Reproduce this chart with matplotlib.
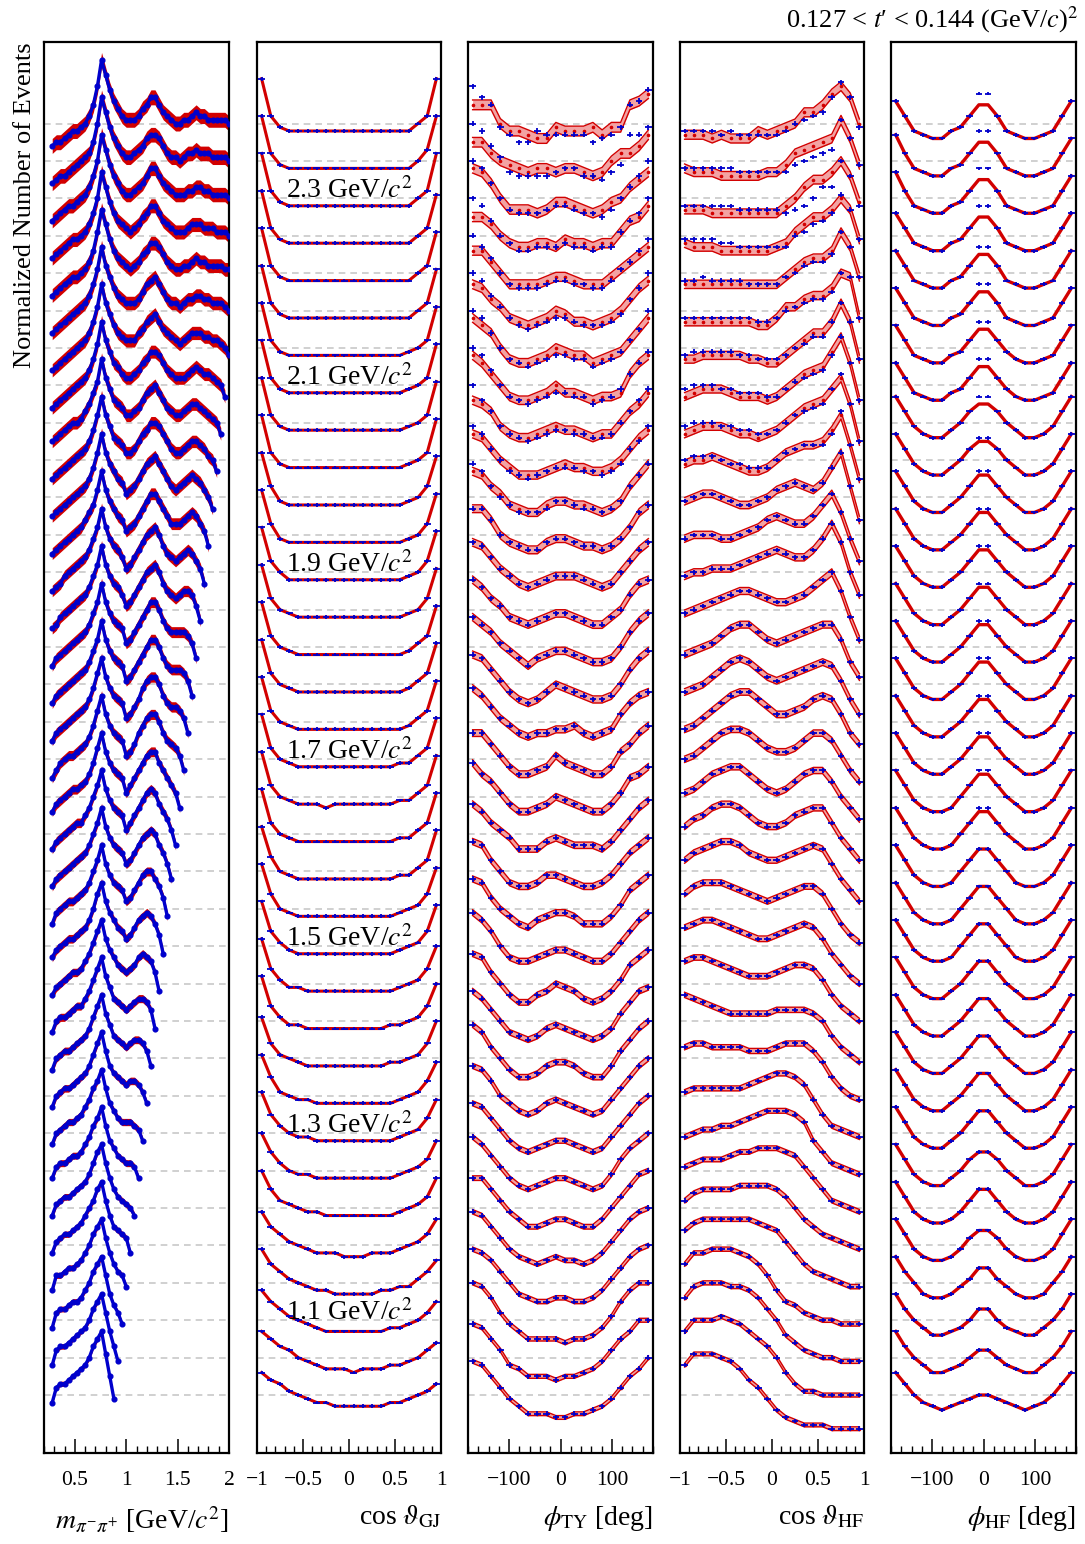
import numpy as np
import matplotlib
matplotlib.use("Agg")
import matplotlib.pyplot as plt
from matplotlib.ticker import MultipleLocator, FixedLocator

plt.rcParams['font.family'] = ['Liberation Serif', 'DejaVu Serif']
plt.rcParams['mathtext.fontset'] = 'stix'

# ---------------- data (values in tenths of the vertical offset step) ----------------
mass_grid = [0.28, 0.32, 0.36, 0.40, 0.44, 0.48, 0.52, 0.56, 0.60, 0.64, 0.68, 0.72,
             0.76, 0.80, 0.84, 0.88, 0.92, 0.96, 1.00, 1.04, 1.08, 1.12, 1.16, 1.20,
             1.24, 1.28, 1.32, 1.36, 1.40, 1.44, 1.48, 1.52, 1.56, 1.60, 1.64, 1.68,
             1.72, 1.76, 1.80, 1.84, 1.88, 1.92, 1.96, 2.00]
cos_bins = [-0.95, -0.85, -0.75, -0.65, -0.55, -0.45, -0.35, -0.25, -0.15, -0.05,
            0.05, 0.15, 0.25, 0.35, 0.45, 0.55, 0.65, 0.75, 0.85, 0.95]
phi_bins = [-171, -153, -135, -117, -99, -81, -63, -45, -27, -9,
            9, 27, 45, 63, 81, 99, 117, 135, 153, 171]

mass_labels = ["1.1", "1.3", "1.5", "1.7", "1.9", "2.1", "2.3"]
mass_label_rows = [2, 7, 12, 17, 22, 27, 32]

mpipi_rows = [
    [-2, 2, 3, 3, 4, 5, 6, 7, 8, 10, 13, 15, 17, 11, 5, -1],
    [-2, 2, 3, 3, 4, 5, 6, 7, 8, 10, 13, 15, 17, 12, 7, 3, -1],
    [-2, 2, 3, 3, 4, 5, 5, 6, 8, 10, 13, 15, 17, 12, 7, 4, 2, -1],
    [-2, 2, 2, 3, 4, 4, 5, 6, 8, 10, 13, 15, 17, 12, 8, 5, 3, 2, -1],
    [-2, 1, 2, 3, 3, 4, 5, 6, 8, 10, 12, 15, 17, 12, 8, 5, 4, 3, 2, -2],
    [-2, 1, 2, 3, 3, 4, 5, 6, 7, 9, 12, 15, 17, 12, 8, 5, 3, 2, 1, 0, -2],
    [-2, 1, 2, 2, 3, 4, 4, 5, 7, 9, 12, 14, 17, 12, 8, 6, 4, 3, 2, 2, 1, -2],
    [-3, 0, 1, 2, 3, 3, 4, 5, 7, 9, 12, 14, 17, 12, 8, 6, 4, 3, 3, 3, 2, 1, -2],
    [-3, 0, 1, 2, 2, 3, 4, 5, 6, 8, 11, 14, 17, 12, 8, 6, 5, 4, 3, 4, 4, 3, 1, -2],
    [-3, 0, 1, 2, 2, 3, 4, 5, 6, 8, 11, 14, 17, 12, 9, 6, 5, 4, 3, 4, 5, 5, 4, 2, -2],
    [-3, 0, 1, 1, 2, 3, 4, 4, 6, 8, 11, 14, 17, 12, 9, 6, 5, 4, 3, 4, 5, 6, 6, 5, 3, -2],
    [-3, -1, 0, 1, 2, 3, 3, 4, 6, 8, 11, 14, 17, 12, 9, 7, 5, 4, 3, 4, 5, 7, 8, 7, 6, 3, -2],
    [-3, -1, 0, 1, 2, 2, 3, 4, 5, 7, 10, 14, 17, 12, 9, 7, 5, 4, 2, 3, 5, 7, 8, 9, 8, 6, 3, -2],
    [-4, -1, 0, 1, 2, 2, 3, 4, 5, 7, 10, 13, 17, 12, 9, 7, 6, 5, 2, 3, 5, 7, 9, 10, 10, 8, 6, 3, -2],
    [-4, -2, -1, 0, 1, 2, 3, 4, 5, 7, 10, 13, 17, 12, 9, 7, 6, 5, 2, 3, 5, 7, 9, 10, 11, 10, 7, 5, 2, -2],
    [-4, -2, -1, 0, 1, 2, 3, 3, 5, 7, 10, 13, 17, 12, 9, 7, 6, 5, 1, 3, 5, 7, 9, 11, 12, 11, 8, 6, 4, 1, -3],
    [-4, -2, -1, 0, 1, 2, 2, 3, 4, 6, 9, 13, 17, 12, 9, 7, 6, 5, 1, 3, 5, 7, 9, 11, 12, 12, 9, 7, 5, 3, 1, -3],
    [-5, -3, -1, 0, 1, 1, 2, 3, 4, 6, 9, 13, 17, 12, 9, 7, 6, 5, 1, 2, 4, 7, 9, 11, 12, 12, 10, 7, 5, 4, 3, 1, -3],
    [-5, -3, -2, -1, 0, 1, 2, 3, 4, 6, 9, 13, 17, 12, 9, 7, 6, 5, 1, 2, 4, 6, 9, 11, 12, 12, 10, 7, 5, 4, 4, 3, 1, -3],
    [-5, -3, -2, -1, 0, 1, 2, 3, 4, 6, 9, 12, 17, 12, 9, 7, 6, 5, 1, 2, 4, 6, 8, 10, 12, 12, 10, 7, 5, 4, 4, 4, 3, 1, -3],
    [-5, -3, -2, -1, 0, 1, 2, 3, 4, 6, 9, 12, 17, 12, 9, 7, 6, 5, 1, 2, 4, 6, 8, 10, 12, 12, 10, 7, 5, 4, 4, 4, 4, 3, 1, -3],
    [-5, -4, -2, -1, 0, 1, 2, 3, 4, 6, 9, 12, 17, 12, 9, 7, 6, 4, 1, 2, 4, 6, 8, 10, 11, 12, 10, 7, 5, 4, 3, 4, 5, 5, 4, 1, -3],
    [-5, -4, -3, -1, 0, 1, 2, 3, 4, 6, 9, 12, 17, 12, 9, 7, 6, 4, 1, 2, 4, 6, 8, 10, 11, 12, 10, 7, 5, 4, 3, 4, 5, 6, 5, 3, 1, -3],
    [-5, -4, -3, -2, -1, 0, 1, 2, 4, 6, 8, 12, 17, 12, 9, 7, 5, 4, 1, 2, 3, 5, 7, 9, 11, 11, 9, 7, 5, 3, 3, 3, 4, 5, 6, 5, 3, 1, -3],
    [-5, -4, -3, -2, -1, 0, 1, 2, 3, 5, 8, 12, 17, 12, 9, 7, 5, 4, 1, 2, 3, 5, 7, 9, 10, 11, 9, 7, 5, 3, 2, 3, 4, 5, 6, 5, 4, 2, 0, -3],
    [-5, -4, -3, -2, -1, 0, 1, 2, 3, 5, 8, 12, 17, 12, 9, 6, 5, 4, 2, 2, 3, 5, 7, 8, 10, 10, 9, 7, 5, 3, 2, 2, 3, 4, 5, 5, 4, 3, 1, 0, -3],
    [-5, -4, -3, -2, -1, 0, 0, 1, 3, 5, 8, 11, 17, 12, 9, 6, 5, 4, 2, 2, 3, 4, 6, 8, 9, 10, 8, 6, 4, 3, 2, 2, 3, 4, 5, 5, 4, 3, 2, 1, 0, -3],
    [-6, -5, -4, -3, -2, -1, 0, 1, 2, 4, 7, 11, 17, 12, 9, 6, 5, 3, 2, 2, 3, 4, 6, 7, 9, 9, 8, 6, 4, 3, 2, 2, 2, 3, 4, 5, 4, 3, 3, 2, 1, 0, -3],
    [-6, -5, -4, -3, -2, -1, 0, 1, 2, 4, 7, 11, 17, 12, 9, 6, 4, 3, 2, 2, 2, 4, 5, 7, 8, 9, 7, 5, 4, 3, 2, 1, 2, 3, 4, 4, 4, 3, 3, 2, 2, 1, 0, -2],
    [-6, -5, -4, -3, -2, -1, 0, 1, 2, 4, 7, 11, 17, 12, 9, 6, 4, 3, 2, 2, 2, 3, 5, 7, 8, 9, 7, 5, 3, 2, 2, 1, 2, 3, 3, 4, 4, 3, 3, 2, 2, 2, 1, 0],
    [-6, -5, -4, -3, -2, -1, -1, 0, 1, 3, 6, 11, 17, 13, 9, 6, 4, 3, 2, 1, 2, 3, 5, 6, 8, 8, 7, 5, 3, 2, 1, 1, 2, 2, 3, 4, 3, 3, 2, 2, 2, 2, 1, 1],
    [-6, -5, -4, -3, -2, -1, -1, 0, 1, 3, 6, 10, 17, 13, 9, 6, 4, 3, 2, 1, 2, 3, 5, 6, 8, 8, 6, 4, 3, 2, 1, 1, 1, 2, 3, 3, 3, 2, 2, 2, 1, 1, 1, 0],
    [-6, -5, -4, -3, -2, -2, -1, 0, 1, 3, 6, 10, 17, 13, 9, 6, 4, 2, 1, 1, 2, 3, 4, 6, 8, 8, 6, 4, 3, 2, 1, 1, 1, 2, 2, 3, 3, 2, 2, 1, 1, 1, 1, 0],
    [-6, -5, -4, -4, -3, -2, -1, 0, 1, 2, 5, 10, 17, 13, 9, 6, 4, 2, 1, 1, 2, 3, 4, 6, 7, 7, 6, 4, 2, 1, 1, 0, 1, 2, 2, 3, 2, 2, 2, 1, 1, 1, 1, 0],
    [-6, -5, -5, -4, -3, -2, -2, -1, 0, 2, 5, 10, 17, 13, 9, 6, 4, 2, 1, 1, 1, 2, 4, 5, 7, 7, 5, 3, 2, 1, 0, 0, 1, 1, 2, 3, 2, 2, 1, 1, 1, 1, 1, 0],
]

cosgj_rows = [
    [6, 4, 3, 1, 0, -1, -2, -2, -3, -3, -3, -3, -3, -3, -2, -2, -1, 0, 1, 3],
    [7, 5, 3, 2, 0, -1, -2, -3, -3, -3, -4, -3, -3, -3, -2, -2, -1, 0, 2, 4],
    [8, 5, 3, 1, 0, -1, -2, -3, -3, -3, -3, -3, -3, -3, -2, -2, -1, 0, 2, 5],
    [9, 5, 3, 1, 0, -1, -2, -2, -3, -3, -3, -3, -3, -2, -2, -1, -1, 1, 3, 6],
    [9, 5, 3, 1, 0, -1, -2, -2, -2, -3, -3, -3, -2, -2, -2, -1, 0, 1, 3, 7],
    [10, 5, 2, 1, 0, -1, -1, -2, -2, -2, -2, -2, -2, -2, -2, -1, 0, 1, 3, 8],
    [10, 5, 2, 0, -1, -1, -2, -2, -2, -2, -2, -2, -2, -2, -2, -1, 0, 1, 3, 8],
    [11, 5, 2, 0, -1, -1, -2, -2, -2, -2, -2, -2, -2, -2, -2, -1, 0, 1, 4, 9],
    [11, 5, 1, 0, -1, -1, -2, -2, -2, -2, -2, -2, -2, -2, -2, -1, 0, 1, 4, 9],
    [11, 4, 1, 0, -1, -2, -2, -2, -2, -2, -2, -2, -2, -2, -1, -1, 0, 1, 4, 10],
    [12, 4, 1, -1, -1, -2, -2, -2, -2, -2, -2, -2, -2, -2, -1, -1, 0, 1, 4, 10],
    [12, 4, 1, -1, -1, -2, -2, -2, -2, -2, -2, -2, -2, -2, -2, -1, 0, 1, 4, 10],
    [12, 4, 1, -1, -2, -2, -2, -2, -2, -2, -2, -2, -2, -2, -2, -1, 0, 1, 4, 11],
    [12, 4, 0, -1, -2, -2, -2, -2, -2, -2, -2, -2, -2, -2, -2, -1, 0, 1, 4, 11],
    [12, 4, 0, -1, -2, -2, -2, -2, -2, -2, -2, -2, -2, -2, -2, -1, -1, 1, 3, 11],
    [12, 3, 0, -1, -2, -2, -2, -2, -2, -2, -2, -2, -2, -2, -2, -1, -1, 1, 3, 11],
    [12, 3, 0, -1, -2, -2, -2, -3, -2, -2, -2, -2, -2, -2, -2, -1, -1, 1, 3, 11],
    [12, 3, 0, -1, -2, -2, -2, -2, -2, -2, -2, -2, -2, -2, -2, -1, -1, 1, 3, 11],
    [12, 3, 0, -1, -2, -2, -2, -2, -2, -2, -2, -2, -2, -2, -2, -2, -1, 1, 3, 11],
    [12, 3, 0, -1, -2, -2, -2, -2, -2, -2, -2, -2, -2, -2, -2, -2, -1, 1, 3, 11],
    [12, 3, 0, -1, -2, -2, -2, -2, -2, -2, -2, -2, -2, -2, -2, -2, -1, 1, 3, 11],
    [12, 3, 0, -1, -2, -2, -2, -2, -2, -2, -2, -2, -2, -2, -2, -2, -1, 0, 3, 11],
    [12, 3, 0, -2, -2, -2, -2, -2, -2, -2, -2, -2, -2, -2, -2, -2, -1, 0, 3, 11],
    [12, 3, -1, -2, -2, -2, -2, -2, -2, -2, -2, -2, -2, -2, -2, -2, -1, 0, 3, 11],
    [12, 3, -1, -2, -2, -2, -2, -2, -2, -2, -2, -2, -2, -2, -2, -2, -1, 0, 3, 11],
    [12, 2, -1, -2, -2, -2, -2, -2, -2, -2, -2, -2, -2, -2, -2, -2, -1, 0, 2, 11],
    [12, 2, -1, -2, -2, -2, -2, -2, -2, -2, -2, -2, -2, -2, -2, -2, -1, 0, 2, 11],
    [12, 2, -1, -2, -2, -2, -2, -2, -2, -2, -2, -2, -2, -2, -2, -2, -1, 0, 2, 11],
    [12, 2, -1, -2, -2, -2, -2, -2, -2, -2, -2, -2, -2, -2, -2, -2, -1, 0, 2, 11],
    [12, 2, -1, -2, -2, -2, -2, -2, -2, -2, -2, -2, -2, -2, -2, -2, -2, 0, 2, 11],
    [12, 2, -1, -2, -2, -2, -2, -2, -2, -2, -2, -2, -2, -2, -2, -2, -2, 0, 2, 11],
    [12, 2, -1, -2, -2, -2, -2, -2, -2, -2, -2, -2, -2, -2, -2, -2, -2, 0, 2, 11],
    [12, 2, -1, -2, -2, -2, -2, -2, -2, -2, -2, -2, -2, -2, -2, -2, -2, 0, 2, 12],
    [12, 2, -1, -2, -2, -2, -2, -2, -2, -2, -2, -2, -2, -2, -2, -2, -2, 0, 3, 12],
    [12, 2, -1, -2, -2, -2, -2, -2, -2, -2, -2, -2, -2, -2, -2, -2, -2, 0, 2, 12],
]

phity_rows = [
    [9, 8, 5, 2, -1, -3, -5, -5, -5, -6, -6, -5, -5, -4, -3, -1, 2, 5, 7, 10],
    [9, 8, 5, 2, -2, -3, -5, -5, -5, -6, -5, -5, -4, -3, -1, 2, 5, 7, 10, 10],
    [10, 9, 6, 2, -1, -3, -5, -5, -5, -5, -6, -5, -5, -4, -2, 1, 5, 8, 10, 10],
    [9, 8, 6, 3, 0, -3, -4, -5, -5, -4, -4, -5, -5, -4, -2, 1, 4, 7, 9, 10],
    [9, 8, 5, 2, -1, -3, -4, -5, -4, -3, -4, -4, -5, -4, -2, 1, 4, 7, 9, 10],
    [8, 8, 5, 2, -1, -3, -5, -5, -4, -3, -3, -4, -5, -5, -3, 0, 3, 6, 9, 10],
    [9, 7, 4, 1, -2, -4, -5, -4, -3, -2, -2, -3, -4, -5, -4, -1, 3, 6, 8, 10],
    [8, 7, 4, 1, -2, -4, -5, -4, -3, -2, -2, -3, -4, -5, -4, -1, 2, 5, 8, 10],
    [8, 7, 4, 0, -2, -4, -5, -4, -2, -1, -2, -3, -4, -5, -4, -1, 2, 5, 8, 10],
    [9, 7, 3, 0, -3, -5, -5, -4, -2, -1, -1, -2, -4, -5, -5, -2, 2, 5, 8, 10],
    [8, 6, 3, 0, -3, -4, -5, -4, -2, -1, -2, -3, -4, -5, -4, -2, 2, 5, 8, 9],
    [8, 7, 3, 0, -3, -5, -5, -3, -2, 0, -1, -2, -4, -5, -4, -2, 1, 5, 7, 9],
    [9, 7, 4, 0, -3, -4, -4, -3, -2, -1, -1, -2, -3, -4, -4, -2, 1, 4, 7, 9],
    [8, 7, 3, 0, -2, -4, -5, -3, -2, -1, -1, -2, -4, -4, -4, -2, 1, 5, 7, 9],
    [8, 7, 3, 0, -3, -4, -4, -3, -1, -1, -2, -3, -4, -4, -3, -1, 2, 5, 7, 9],
    [8, 6, 3, 1, -1, -4, -4, -4, -2, -1, -2, -3, -3, -3, -4, -2, 1, 4, 7, 9],
    [9, 6, 4, 1, -2, -4, -4, -3, -2, 0, -1, -2, -3, -4, -4, -2, 1, 5, 6, 8],
    [7, 7, 4, 1, -2, -4, -4, -3, -2, 1, -1, -2, -3, -4, -4, -2, 2, 4, 7, 9],
    [9, 7, 4, 1, -1, -3, -4, -3, -3, -2, -2, -1, -3, -4, -3, -2, 2, 5, 7, 8],
    [8, 7, 4, 1, -2, -4, -5, -4, -2, 0, -1, -2, -3, -4, -4, -3, 0, 4, 7, 9],
    [8, 6, 4, 1, -1, -3, -5, -3, -2, -1, -1, -2, -3, -4, -4, -3, 0, 4, 7, 9],
    [8, 6, 3, 1, -2, -3, -4, -3, -2, -1, -1, -2, -3, -4, -4, -2, 0, 4, 7, 8],
    [8, 7, 4, 1, -1, -3, -4, -3, -2, -1, -1, -1, -2, -3, -4, -3, 0, 3, 6, 8],
    [7, 7, 4, 0, -2, -3, -4, -4, -2, -1, -1, -2, -3, -3, -4, -3, -1, 2, 6, 8],
    [7, 6, 3, 1, -2, -3, -4, -4, -2, -1, -1, -2, -2, -3, -4, -3, -1, 3, 6, 9],
    [7, 6, 3, 0, -2, -4, -4, -4, -3, -2, -1, -2, -2, -3, -3, -2, 0, 3, 6, 8],
    [6, 5, 3, -1, -3, -4, -4, -3, -2, -1, -2, -2, -3, -4, -3, -3, 0, 3, 5, 8],
    [8, 6, 3, 0, -3, -4, -4, -3, -2, 0, -2, -2, -3, -4, -3, -3, -2, 3, 6, 8],
    [8, 6, 4, 0, -3, -4, -4, -3, -2, 0, -1, -2, -2, -4, -3, -2, -1, 2, 5, 8],
    [7, 6, 3, 1, -2, -3, -4, -3, -2, 0, -1, -3, -3, -4, -3, -2, 0, 3, 6, 8],
    [6, 6, 3, 0, -3, -3, -3, -3, -2, -1, -1, -2, -3, -3, -3, -1, 1, 3, 5, 7],
    [5, 5, 3, 0, -2, -3, -3, -2, -2, -3, -1, -2, -2, -3, -2, -2, 1, 4, 5, 8],
    [8, 7, 4, 0, -3, -3, -3, -4, -3, -1, -1, -2, -3, -4, -3, -1, 0, 3, 5, 7],
    [5, 5, 2, 0, -1, -2, -3, -2, -2, -3, -2, -2, -3, -4, -3, 0, 2, 2, 4, 7],
    [5, 5, 5, 0, -2, -2, -3, -4, -4, -1, -2, -2, -2, -1, -3, -1, -1, 5, 6, 8],
]
# measured points where they visibly differ from the model (None = on the model)
phity_data = [None] * 24 + [
    [9, 7, 3, 0, -2, -4, -4, -4, -3, -1, -1, -2, -3, -3, -4, -3, -1, 3, 6, 9],
    [9, 7, 3, 0, -3, -4, -5, -4, -3, -2, -2, -2, -3, -3, -4, -3, -1, 3, 5, 9],
    [10, 6, 3, -1, -3, -4, -5, -4, -3, -2, -2, -3, -3, -4, -4, -3, 0, 3, 6, 9],
    [10, 8, 4, 0, -3, -4, -5, -4, -3, -2, -2, -3, -3, -5, -4, -3, -1, 3, 6, 9],
    [10, 8, 4, 0, -3, -4, -5, -4, -3, -2, -2, -3, -3, -5, -4, -3, -1, 2, 5, 10],
    [10, 8, 4, 1, -2, -4, -5, -4, -3, -2, -2, -3, -4, -4, -4, -3, -1, 3, 6, 10],
    [10, 7, 4, 0, -3, -4, -4, -4, -3, -2, -2, -3, -3, -4, -4, -2, 1, 3, 6, 9],
    [10, 8, 4, 0, -2, -4, -4, -3, -3, -3, -2, -3, -3, -4, -3, -3, 1, 4, 6, 10],
    [10, 8, 4, 0, -3, -4, -4, -4, -3, -2, -2, -3, -4, -4, -5, -3, 0, 3, 6, 10],
    [10, 8, 4, 1, -3, -4, -4, -4, -4, -3, -2, -2, -4, -4, -5, -3, -1, 7, 7, 9],
    [10, 7, 5, -1, -3, -5, -5, -2, -3, -3, -3, -3, -3, -5, -4, -3, -1, 5, 6, 9],
]

coshf_rows = [
    [8, 11, 11, 11, 10, 9, 7, 4, 2, -1, -4, -6, -7, -8, -8, -8, -9, -9, -9, -9],
    [7, 10, 10, 10, 11, 10, 9, 7, 5, 3, 0, -4, -7, -9, -9, -10, -10, -10, -10, -10],
    [6, 9, 10, 10, 10, 9, 9, 8, 6, 3, 0, -4, -6, -8, -9, -10, -10, -11, -11, -11],
    [5, 8, 8, 9, 9, 9, 8, 7, 5, 2, -2, -5, -6, -8, -9, -10, -10, -11, -11, -11],
    [4, 6, 7, 7, 7, 7, 7, 7, 6, 5, 4, 1, -2, -5, -7, -8, -9, -10, -11, -11],
    [2, 4, 5, 5, 5, 5, 6, 6, 6, 6, 5, 3, 0, -3, -5, -7, -8, -9, -10, -11],
    [1, 2, 3, 3, 3, 4, 5, 5, 6, 6, 6, 5, 4, 1, -2, -5, -8, -9, -10, -11],
    [-1, 0, 1, 1, 2, 2, 3, 4, 5, 6, 6, 6, 5, 3, -2, -5, -8, -9, -10, -11],
    [1, 2, 2, 2, 2, 2, 2, 3, 4, 5, 6, 6, 5, 3, -1, -5, -8, -9, -10, -11],
    [3, 4, 4, 3, 3, 3, 3, 2, 2, 2, 3, 4, 4, 4, 2, -1, -5, -8, -10, -11],
    [7, 6, 5, 4, 3, 2, 2, 2, 2, 2, 3, 3, 3, 3, 2, 0, -4, -7, -9, -11],
    [6, 7, 7, 6, 5, 4, 3, 2, 2, 2, 3, 4, 5, 5, 4, 1, -3, -6, -8, -10],
    [5, 6, 7, 7, 6, 5, 4, 3, 2, 2, 3, 4, 5, 6, 5, 2, -2, -5, -8, -10],
    [4, 6, 7, 7, 7, 6, 5, 4, 3, 2, 3, 4, 5, 6, 6, 4, 0, -4, -7, -9],
    [3, 5, 6, 7, 8, 8, 7, 5, 4, 3, 3, 4, 5, 6, 7, 6, 2, -2, -5, -8],
    [2, 4, 5, 7, 8, 8, 7, 5, 3, 2, 2, 3, 5, 6, 7, 7, 3, -1, -4, -7],
    [1, 2, 4, 6, 7, 8, 8, 6, 4, 2, 1, 2, 4, 6, 7, 7, 4, 0, -3, -6],
    [0, 1, 3, 5, 7, 8, 8, 7, 5, 3, 2, 2, 3, 5, 7, 7, 5, 1, -3, -6],
    [-2, -1, 1, 3, 5, 7, 8, 8, 6, 4, 2, 2, 3, 4, 6, 7, 6, 2, -3, -6],
    [-2, -1, 0, 2, 4, 6, 7, 6, 4, 2, 1, 2, 3, 4, 5, 6, 5, 1, -4, -8],
    [-2, -1, 0, 1, 3, 5, 6, 6, 4, 2, 1, 2, 3, 4, 5, 6, 6, 2, -4, -8],
    [-1, 0, 1, 2, 3, 4, 5, 5, 4, 3, 2, 2, 3, 4, 6, 8, 10, 5, -2, -8],
    [-1, 0, 0, 1, 1, 1, 2, 3, 4, 5, 6, 5, 4, 4, 6, 9, 13, 8, 0, -6],
    [-1, 0, 0, 0, -1, -1, 0, 1, 2, 4, 5, 4, 3, 3, 5, 8, 11, 6, -1, -7],
    [-1, 0, 1, 1, 0, -1, -2, -2, -1, 0, 2, 3, 4, 3, 2, 4, 8, 12, 3, -6],
    [-1, 0, 0, 1, 0, -1, -2, -3, -3, -2, 0, 2, 3, 4, 4, 5, 8, 12, 4, -5],
    [-3, -2, -1, -1, -1, -2, -3, -3, -4, -3, -2, 0, 2, 4, 5, 6, 9, 12, 5, -5],
    [-3, -2, -1, -1, -1, -2, -3, -3, -3, -4, -3, -1, 1, 3, 4, 5, 9, 13, 6, -4],
    [-3, -3, -2, -2, -2, -2, -2, -3, -3, -4, -4, -2, 0, 2, 4, 4, 7, 12, 7, -3],
    [-3, -3, -3, -3, -3, -3, -3, -3, -4, -4, -2, 1, 1, 3, 4, 4, 6, 10, 9, -2],
    [-3, -3, -3, -3, -3, -3, -3, -3, -3, -3, -3, -1, 1, 3, 4, 4, 6, 11, 7, -1],
    [-2, -3, -3, -3, -4, -4, -4, -4, -4, -4, -3, -2, 1, 3, 5, 5, 7, 10, 7, -1],
    [-3, -3, -3, -4, -4, -4, -4, -4, -4, -4, -4, -2, 0, 3, 5, 5, 7, 10, 6, -1],
    [-2, -3, -3, -3, -4, -4, -4, -4, -4, -3, -3, -1, 2, 3, 4, 5, 6, 11, 6, -1],
    [-3, -3, -3, -4, -3, -4, -4, -4, -2, -3, -2, -1, 0, 3, 3, 5, 8, 10, 7, 0],
]
coshf_data = [None] * 25 + [
    [0, 1, 1, 1, 0, -1, -1, -2, -2, -2, 0, 2, 3, 4, 4, 4, 7, 13, 4, -5],
    [-1, 0, 0, 0, -1, -1, -2, -2, -3, -3, -2, 0, 2, 3, 4, 5, 9, 13, 5, -5],
    [-1, 0, 0, 0, -1, -1, -2, -2, -2, -3, -3, -1, 1, 2, 3, 4, 8, 13, 6, -4],
    [-2, -1, -1, -1, -1, -1, -2, -2, -3, -3, -3, -2, 0, 1, 3, 3, 7, 12, 7, -3],
    [-2, -2, -2, -2, -2, -2, -2, -2, -3, -3, -2, 0, 1, 2, 3, 3, 5, 10, 9, -2],
    [-2, -2, -1, -2, -2, -2, -2, -3, -3, -3, -3, -1, 0, 2, 3, 3, 5, 11, 7, -1],
    [-1, -1, -1, -1, -2, -2, -3, -3, -3, -3, -3, -3, 0, 1, 3, 4, 6, 11, 7, -1],
    [-2, -2, -2, -2, -2, -2, -3, -3, -3, -3, -3, -4, -3, -2, 0, 3, 3, 10, 6, -2],
    [-2, -2, -2, -2, -2, -2, -3, -3, -3, -3, -3, -3, -1, 0, 1, 2, 3, 11, 6, -1],
    [-2, -2, -2, -2, -3, -2, -3, -3, -3, -3, -3, -2, 0, 1, 2, 3, 7, 11, 7, -1],
]

phihf_rows = [
    [6, 3, 0, -2, -3, -4, -3, -2, -1, 0, 0, -1, -2, -3, -4, -3, -2, 0, 3, 6],
    [7, 3, 0, -2, -4, -4, -3, -2, 0, 2, 2, 0, -2, -3, -4, -4, -2, 0, 3, 7],
    [7, 3, 0, -2, -4, -4, -3, -2, 0, 3, 3, 0, -2, -3, -4, -4, -2, 0, 3, 7],
    [7, 3, 0, -3, -4, -4, -3, -1, 1, 4, 4, 1, -1, -3, -4, -4, -3, 0, 3, 7],
    [7, 3, -1, -3, -4, -4, -3, -1, 2, 4, 4, 2, -1, -3, -4, -4, -3, -1, 3, 7],
    [7, 3, -1, -3, -4, -4, -3, -1, 2, 5, 5, 2, -1, -3, -4, -4, -3, -1, 3, 7],
    [7, 3, -1, -3, -4, -4, -2, 0, 3, 5, 5, 3, 0, -2, -4, -4, -3, -1, 3, 7],
    [7, 3, -1, -3, -4, -4, -2, 0, 3, 6, 6, 3, 0, -2, -4, -4, -3, -1, 3, 7],
    [7, 3, -1, -3, -4, -4, -2, 0, 3, 6, 6, 3, 0, -2, -4, -4, -3, -1, 3, 7],
    [7, 3, -1, -3, -4, -4, -2, 0, 3, 6, 6, 3, 0, -2, -4, -4, -3, -1, 3, 7],
    [7, 3, -1, -3, -4, -4, -2, 0, 3, 6, 6, 3, 0, -2, -4, -4, -3, -1, 3, 7],
    [7, 3, -1, -3, -4, -4, -2, 0, 3, 6, 6, 3, 0, -2, -4, -4, -3, -1, 3, 7],
    [7, 3, -1, -3, -4, -4, -3, 0, 3, 6, 6, 3, 0, -3, -4, -4, -3, -1, 3, 7],
    [7, 3, -1, -3, -4, -4, -3, 0, 3, 6, 6, 3, 0, -3, -4, -4, -3, -1, 3, 7],
    [7, 3, -1, -3, -4, -4, -3, 0, 3, 6, 6, 3, 0, -3, -4, -4, -3, -1, 3, 7],
    [7, 3, -1, -3, -4, -4, -3, 0, 3, 6, 6, 3, 0, -2, -4, -4, -3, -1, 3, 7],
    [7, 3, -1, -3, -4, -4, -3, 0, 3, 6, 6, 3, 0, -2, -4, -4, -3, -1, 3, 7],
    [7, 3, -1, -3, -4, -4, -2, 0, 3, 6, 6, 3, 0, -2, -4, -4, -3, -1, 3, 7],
    [7, 3, -1, -3, -4, -4, -2, 0, 3, 6, 6, 3, 0, -2, -4, -4, -3, -1, 3, 7],
    [7, 3, -1, -3, -4, -4, -2, 0, 3, 6, 6, 3, 0, -2, -4, -4, -3, -1, 3, 7],
    [7, 3, -1, -3, -4, -4, -2, 0, 3, 6, 6, 3, 0, -2, -4, -4, -3, -1, 3, 7],
    [7, 3, -1, -3, -4, -4, -2, 0, 3, 6, 6, 3, 0, -2, -4, -4, -3, -1, 3, 7],
    [7, 3, -1, -3, -4, -4, -2, 0, 3, 6, 6, 3, 0, -2, -4, -4, -3, -1, 3, 7],
    [7, 3, -1, -3, -4, -4, -2, 0, 3, 6, 6, 3, 0, -2, -4, -4, -3, -1, 3, 7],
    [7, 3, -1, -3, -4, -4, -2, 0, 3, 6, 6, 3, 0, -2, -4, -4, -3, -1, 3, 7],
    [7, 3, -1, -3, -4, -4, -2, 0, 3, 5, 5, 3, 0, -2, -4, -4, -3, -1, 3, 7],
    [7, 3, -1, -3, -4, -4, -2, 0, 3, 5, 5, 3, 0, -2, -4, -4, -3, -1, 3, 7],
    [6, 2, -2, -3, -4, -4, -2, -1, 2, 5, 5, 2, -1, -3, -4, -4, -3, -2, 2, 6],
    [6, 2, -2, -3, -4, -4, -2, -1, 2, 5, 5, 2, -1, -3, -4, -4, -3, -2, 2, 6],
    [6, 2, -2, -3, -4, -4, -2, -1, 2, 5, 5, 2, -2, -3, -4, -4, -3, -2, 2, 6],
    [6, 2, -2, -3, -4, -4, -2, -1, 2, 5, 5, 2, -2, -3, -4, -4, -3, -2, 2, 6],
    [6, 2, -2, -3, -4, -4, -2, -1, 2, 5, 5, 2, -2, -3, -4, -4, -3, -2, 2, 6],
    [7, 2, -2, -3, -4, -4, -2, -1, 2, 5, 5, 2, -2, -3, -4, -4, -3, -2, 2, 6],
    [7, 2, -2, -3, -4, -4, -2, -1, 2, 5, 5, 2, -2, -3, -4, -4, -3, -2, 2, 6],
    [6, 2, -2, -3, -4, -4, -2, -1, 2, 5, 5, 2, -2, -3, -4, -4, -3, -2, 2, 6],
]
# measured value of the two central phi_HF bins (tenths)
phihf_center_data = [0, 2, 3, 4, 4, 5, 5, 6, 6, 6, 6, 6, 6, 6, 6, 7, 7, 7, 7, 7,
                     7, 7, 7, 7, 7, 6, 7, 7, 7, 7, 7, 8, 8, 8, 8]

# ---------------- drawing ----------------
RED = '#d20000'
PINK = '#f3a3a3'
BLUE = '#0000cc'
GRID = '#c8c8c8'

W, H = 1085, 1544
fig = plt.figure(figsize=(W / 100, H / 100), dpi=100)
bounds = [(44, 229), (257, 441), (468, 653), (680, 864), (891, 1076)]
top_px, bot_px = 42, 1453
axs = []
for l, r in bounds:
    ax = fig.add_axes([l / W, 1 - bot_px / H, (r - l) / W, (bot_px - top_px) / H])
    ax.set_ylim(-1.55, 36.18)
    ax.set_yticks([])
    for s in ax.spines.values():
        s.set_linewidth(1.6)
    for i in range(35):
        ax.axhline(i, color=GRID, lw=1.2, ls=(0, (4, 3)), zorder=0)
    ax.tick_params(axis='x', which='major', direction='in', length=10, width=1.1,
                   labelsize=15.5, pad=13, top=False)
    ax.tick_params(axis='x', which='minor', direction='in', length=5, width=1.0, top=False)
    axs.append(ax)

n = len(mpipi_rows)

# panel 1: m(pi pi)
ax = axs[0]
ax.set_xlim(0.2, 2.0)
for i, row in enumerate(mpipi_rows):
    x = np.array(mass_grid[:len(row)])
    y = i + np.array(row) / 10.0
    w = 0.07 + 0.13 * i / (n - 1)
    ax.fill_between(x, y - w, y + w, color=RED, lw=0, zorder=2)
    ax.plot(x, y, color=BLUE, lw=2.4, marker='o', ms=3.4, zorder=3)
ax.xaxis.set_major_locator(FixedLocator([0.5, 1.0, 1.5, 2.0]))
ax.set_xticklabels(['0.5', '1', '1.5', '2'])
ax.xaxis.set_minor_locator(MultipleLocator(0.1))


def band(ax, x, y, w):
    ax.fill_between(x, y - w, y + w, color=PINK, lw=0, zorder=2)
    ax.plot(x, y - w, color=RED, lw=1.0, zorder=3)
    ax.plot(x, y + w, color=RED, lw=1.0, zorder=3)
    ax.plot(x, y, ls='none', marker='o', ms=1.6, color=RED, zorder=3)


def points(ax, x, y, hw, ye):
    ax.errorbar(x, y, xerr=hw, yerr=ye, fmt='none', ecolor=BLUE,
                elinewidth=1.3, capsize=0, zorder=4)


# panel 2: cos theta GJ
ax = axs[1]
ax.set_xlim(-1, 1)
xc = np.array(cos_bins)
for i, row in enumerate(cosgj_rows):
    y = i + np.array(row) / 10.0
    ax.plot(xc, y, color=RED, lw=2.2, zorder=3)
    points(ax, xc, y, 0.036, 0.05)
for lab, r in zip(mass_labels, mass_label_rows):
    ax.text(0.0, r + 0.2, lab + r' GeV/$c^2$', ha='center', va='center',
            fontsize=20, zorder=6)
ax.xaxis.set_major_locator(FixedLocator([-1, -0.5, 0, 0.5, 1]))
ax.set_xticklabels(['\u22121', '\u22120.5', '0', '0.5', '1'])
ax.xaxis.set_minor_locator(MultipleLocator(0.1))

# panel 3: phi TY
ax = axs[2]
ax.set_xlim(-180, 180)
xp = np.array(phi_bins)
for i, row in enumerate(phity_rows):
    y = i + np.array(row) / 10.0
    w = 0.05 + 0.08 * i / (n - 1)
    band(ax, xp, y, w)
    d = phity_data[i]
    yd = y if d is None else i + np.array(d) / 10.0
    points(ax, xp, yd, 6.5, 0.07)
ax.xaxis.set_major_locator(FixedLocator([-100, 0, 100]))
ax.set_xticklabels(['\u2212100', '0', '100'])
ax.xaxis.set_minor_locator(MultipleLocator(20))

# panel 4: cos theta HF
ax = axs[3]
ax.set_xlim(-1, 1)
for i, row in enumerate(coshf_rows):
    y = i + np.array(row) / 10.0
    w = 0.05 + 0.07 * i / (n - 1)
    band(ax, xc, y, w)
    d = coshf_data[i]
    yd = y if d is None else i + np.array(d) / 10.0
    points(ax, xc, yd, 0.036, 0.06)
ax.xaxis.set_major_locator(FixedLocator([-1, -0.5, 0, 0.5, 1]))
ax.set_xticklabels(['\u22121', '\u22120.5', '0', '0.5', '1'])
ax.xaxis.set_minor_locator(MultipleLocator(0.1))

# panel 5: phi HF
ax = axs[4]
ax.set_xlim(-180, 180)
for i, row in enumerate(phihf_rows):
    y = i + np.array(row) / 10.0
    ax.plot(xp, y, color=RED, lw=2.4, zorder=3)
    yd = y.copy()
    yd[9] = i + phihf_center_data[i] / 10.0
    yd[10] = i + phihf_center_data[i] / 10.0
    points(ax, xp, yd, 6.5, 0.05)
ax.xaxis.set_major_locator(FixedLocator([-100, 0, 100]))
ax.set_xticklabels(['\u2212100', '0', '100'])
ax.xaxis.set_minor_locator(MultipleLocator(20))

xlabels = [r'$m_{\pi^{-}\pi^{+}}$ [GeV/$c^{2}$]',
           r'cos $\vartheta_{\mathrm{GJ}}$',
           r'$\phi_{\mathrm{TY}}$ [deg]',
           r'cos $\vartheta_{\mathrm{HF}}$',
           r'$\phi_{\mathrm{HF}}$ [deg]']
for ax, lab in zip(axs, xlabels):
    ax.set_xlabel(lab, fontsize=20, loc='right', labelpad=10)

axs[0].set_ylabel('Normalized Number of Events', fontsize=19, loc='top', labelpad=6)

fig.text(1078 / W, 1 - 20 / H, r"0.127 < $t$" + "\u2032" + r" < 0.144 (GeV/$c$)$^2$",
         ha='right', va='center', fontsize=19)

fig.savefig('out.png', dpi=100)
